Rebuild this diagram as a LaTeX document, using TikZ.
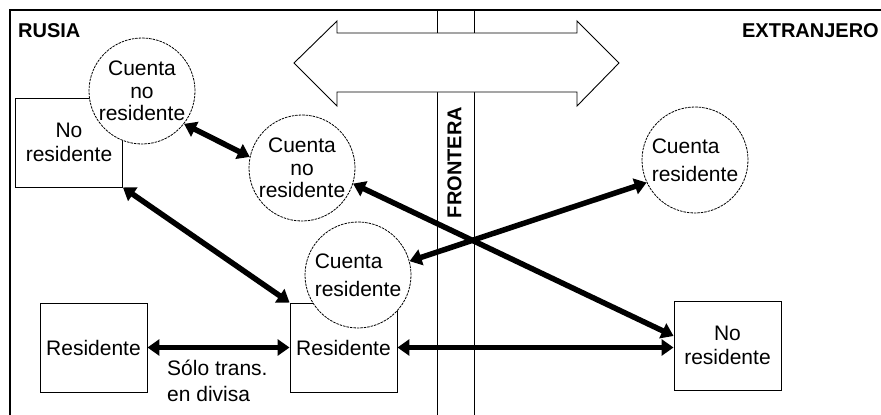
\documentclass[tikz,border=0pt]{standalone}
\usepackage{fontspec}
\setmainfont{Liberation Sans}
\usetikzlibrary{arrows.meta}
\begin{document}
\begin{tikzpicture}[x=1pt,y=-1pt,
  box/.style={draw, line width=0.9pt, minimum width=107pt, minimum height=89pt, inner sep=0pt, align=center, font=\fontsize{21}{24}\selectfont},
  acct/.style={circle, draw, dash pattern=on 2.5pt off 1pt, line width=0.8pt, fill=white, minimum size=106pt, inner sep=0pt},
  link/.style={line width=5.5pt, {Triangle[length=12pt,width=16pt]}-{Triangle[length=12pt,width=16pt]}},
  title/.style={font=\fontsize{20}{20}\selectfont\bfseries, inner sep=0pt}]
\useasboundingbox (0,0) rectangle (881,415);
% frame
\draw[line width=1.6pt] (10,415) -- (10,10) -- (881,10);
% border lines
\draw[line width=0.9pt] (437,10) -- (437,415);
\draw[line width=0.9pt] (474,10) -- (474,415);
% double arrow
\draw[fill=white, line width=0.9pt] (294,63) -- (337,21) -- (337,33) -- (577,33) -- (577,21) -- (619,63) -- (577,106) -- (577,92) -- (337,92) -- (337,106) -- cycle;
% boxes
\node[box] (nr1) at (69,142.5) {No\\residente};
\node[box] (res1) at (93.5,347.5) {Residente};
\node[box] (res2) at (343.5,347.5) {Residente};
\node[box] (nr2) at (727.5,345.5) {No\\residente};
% accounts
\node[acct, align=center, font=\fontsize{21}{22.5}\selectfont] (c1) at (142,91) {Cuenta\\no\\residente};
\node[acct, align=center, font=\fontsize{21}{22.5}\selectfont] (c2) at (302,168) {Cuenta\\no\\residente};
\node[acct, align=left, font=\fontsize{21}{28}\selectfont] (c3) at (358,275) {Cuenta\\residente};
\node[acct, align=left, font=\fontsize{21}{28}\selectfont] (c4) at (695,160) {Cuenta\\residente};
% links
\draw[link] (c1.-38) -- (c2.168);
\draw[link] (nr1.south east) -- (res2.north west);
\draw[link] (c2.-17) -- (nr2.170);
\draw[link] (c3.15) -- (c4.205);
\draw[link] (res2.east) -- (res2.east -| nr2.west);
\draw[link] (res1.east) -- (res2.west);
% labels
\node[title, anchor=base west] (rusia) at (18,37) {RUSIA};
\node[title, anchor=base east] (ext) at (879,37) {EXTRANJERO};
\node[title, rotate=90] (front) at (454.5,162.5) {FRONTERA};
\node[anchor=west, align=left, inner sep=0pt, font=\fontsize{21}{26}\selectfont] (lbl) at (167,381) {Sólo trans.\\en divisa};
\end{tikzpicture}
\end{document}
